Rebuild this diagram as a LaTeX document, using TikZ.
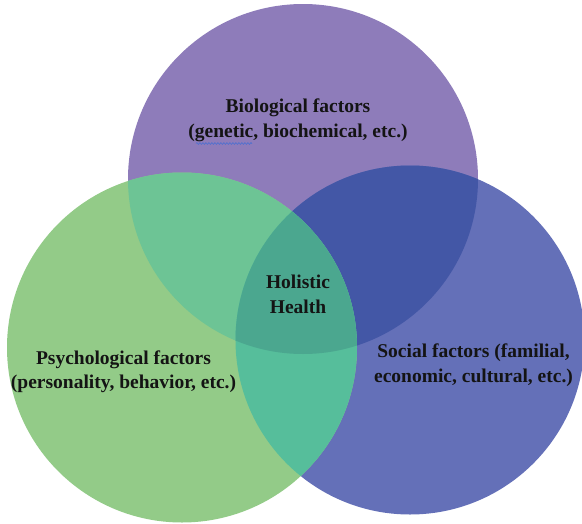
\documentclass[tikz,border=0pt]{standalone}
\usepackage{fontspec}
\setmainfont{Liberation Serif}
\usetikzlibrary{decorations.pathmorphing}

% region colours
\definecolor{bioC}{HTML}{8E7CBA}
\definecolor{socC}{HTML}{6470B8}
\definecolor{psyC}{HTML}{93CB88}
\definecolor{bioSoc}{HTML}{4357A6}
\definecolor{psyBio}{HTML}{6DC495}
\definecolor{psySoc}{HTML}{56BE9B}
\definecolor{allC}{HTML}{4BA78F}
\definecolor{squiggle}{HTML}{4A6FD0}

\tikzset{
  label text/.style={font=\fontsize{19.5}{24.5}\selectfont\bfseries, align=center, text=black!92, inner sep=0pt},
}

\newcommand{\bioCircle}{(303,179) circle[radius=175]}
\newcommand{\socCircle}{(410,340) circle[radius=174.5]}
\newcommand{\psyCircle}{(182,347.5) circle[radius=175]}

\begin{document}
\begin{tikzpicture}[x=1pt,y=-1pt]
  \useasboundingbox (0,0) rectangle (582,523);

  % the three circles
  \fill[bioC] \bioCircle;
  \fill[socC] \socCircle;
  \fill[psyC] \psyCircle;

  % pairwise overlaps
  \begin{scope}
    \clip \bioCircle;
    \fill[bioSoc] \socCircle;
  \end{scope}
  \begin{scope}
    \clip \psyCircle;
    \fill[psyBio] \bioCircle;
  \end{scope}
  \begin{scope}
    \clip \psyCircle;
    \fill[psySoc] \socCircle;
  \end{scope}
  % common centre
  \begin{scope}
    \clip \psyCircle;
    \clip \bioCircle;
    \fill[allC] \socCircle;
  \end{scope}

  % labels
  \node[label text] (bio) at (298,120.5) {Biological factors\\(genetic, biochemical, etc.)};
  \node[label text] (holistic) at (298,294.5) {Holistic\\Health};
  \node[label text] (psy) at (123.5,371.5) {Psychological factors\\(personality, behavior, etc.)};
  \node[label text] (soc) at (473.5,365) {Social factors (familial,\\economic, cultural, etc.)};

  % spell-check squiggle under "genetic"
  \draw[squiggle, line width=0.6pt, decorate,
        decoration={snake, amplitude=0.9pt, segment length=3pt}]
        (196,143.5) -- (252,143.5);
\end{tikzpicture}
\end{document}
